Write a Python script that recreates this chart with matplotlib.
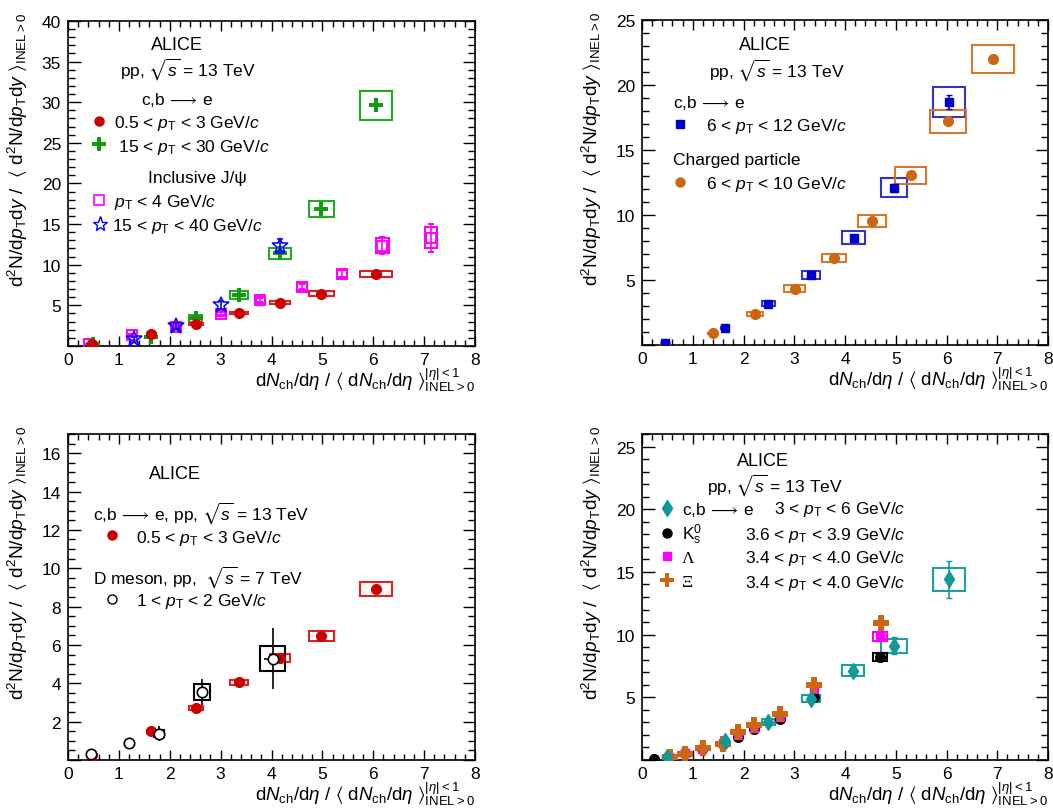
import numpy as np
import matplotlib
matplotlib.use("Agg")
import matplotlib.pyplot as plt
from matplotlib.patches import Rectangle
from matplotlib.lines import Line2D
from matplotlib.ticker import MultipleLocator, FuncFormatter

plt.rcParams['font.family'] = ['Liberation Sans', 'DejaVu Sans']
plt.rcParams['mathtext.fontset'] = 'custom'
plt.rcParams['mathtext.rm'] = 'Liberation Sans'
plt.rcParams['mathtext.it'] = 'Liberation Sans:italic'
plt.rcParams['mathtext.bf'] = 'Liberation Sans:bold'
plt.rcParams['mathtext.fallback'] = 'stixsans'
plt.rcParams['font.size'] = 12

# ---- data ----
# c,b -> e, 0.5 < pT < 3 GeV/c
hfe_low_x = [0.47, 1.64, 2.51, 3.36, 4.17, 4.98, 6.05]
hfe_low_y = [0.28, 1.5, 2.7, 4.05, 5.32, 6.45, 8.9]
hfe_low_stat = [0.02, 0.05, 0.07, 0.1, 0.12, 0.15, 0.3]
hfe_low_sx = [0.03, 0.08, 0.14, 0.17, 0.2, 0.25, 0.31]
hfe_low_sy = [0.04, 0.08, 0.1, 0.14, 0.19, 0.27, 0.37]

# c,b -> e, 15 < pT < 30 GeV/c
hfe_high_x = [0.49, 1.64, 2.51, 3.36, 4.17, 4.98, 6.05]
hfe_high_y = [0.2, 1.15, 3.4, 6.3, 11.4, 16.9, 29.6]
hfe_high_stat = [0.05, 0.1, 0.2, 0.3, 0.5, 0.6, 0.8]
hfe_high_sx = [0.03, 0.08, 0.13, 0.17, 0.22, 0.25, 0.31]
hfe_high_sy = [0.1, 0.2, 0.4, 0.5, 0.7, 1.0, 1.8]

# inclusive J/psi, pT < 4 GeV/c
jpsi_low_x = [0.41, 1.25, 2.12, 3.0, 3.78, 4.6, 5.38, 6.18, 7.13]
jpsi_low_y = [0.2, 1.3, 2.35, 3.95, 5.65, 7.3, 8.9, 12.35, 13.3]
jpsi_low_stat = [0.05, 0.1, 0.15, 0.2, 0.3, 0.35, 0.45, 1.0, 1.7]
jpsi_low_sx = [0.08, 0.08, 0.08, 0.08, 0.09, 0.09, 0.1, 0.12, 0.12]
jpsi_low_sy = [0.1, 0.2, 0.25, 0.3, 0.38, 0.4, 0.45, 0.9, 1.3]

# inclusive J/psi, 15 < pT < 40 GeV/c
jpsi_high_x = [1.29, 2.13, 3.0, 4.16]
jpsi_high_y = [0.8, 2.45, 5.05, 12.3]
jpsi_high_stat = [0.3, 0.4, 0.5, 0.9]

# c,b -> e, 6 < pT < 12 GeV/c
hfe_mid_x = [0.46, 1.63, 2.49, 3.33, 4.17, 4.97, 6.05]
hfe_mid_y = [0.13, 1.33, 3.18, 5.41, 8.26, 12.1, 18.7]
hfe_mid_stat = [0.02, 0.05, 0.08, 0.12, 0.2, 0.3, 0.55]
hfe_mid_sx = [0.03, 0.07, 0.13, 0.17, 0.22, 0.26, 0.31]
hfe_mid_sy = [0.03, 0.08, 0.2, 0.3, 0.5, 0.74, 1.15]

# charged particles, 6 < pT < 10 GeV/c
ch_x = [0.45, 1.40, 2.22, 3.01, 3.79, 4.54, 5.29, 6.02, 6.92]
ch_y = [0.05, 0.9, 2.36, 4.33, 6.69, 9.54, 13.05, 17.2, 22.0]
ch_sx = [0.03, 0.1, 0.16, 0.21, 0.236, 0.275, 0.31, 0.355, 0.41]
ch_sy = [0.02, 0.06, 0.15, 0.25, 0.33, 0.47, 0.64, 0.87, 1.09]

# D mesons, pp 7 TeV, 1 < pT < 2 GeV/c
dmes_x = [0.46, 1.19, 1.79, 2.64, 4.02]
dmes_y = [0.31, 0.87, 1.38, 3.54, 5.29]
dmes_stat = [0.05, 0.08, 0.37, 0.68, 1.59]
dmes_xerr = [0.0, 0.0, 0.0, 0.05, 0.17]
dmes_sx = [0.05, 0.07, 0.1, 0.16, 0.24]
dmes_sy = [0.05, 0.07, 0.17, 0.4, 0.63]

# c,b -> e, 3 < pT < 6 GeV/c
hfe_36_x = [0.49, 1.64, 2.49, 3.33, 4.16, 4.97, 6.05]
hfe_36_y = [0.2, 1.5, 3.04, 4.9, 7.1, 9.13, 14.4]
hfe_36_stat = [0.02, 0.05, 0.1, 0.2, 0.3, 0.65, 1.45]
hfe_36_sx = [0.03, 0.07, 0.13, 0.18, 0.22, 0.26, 0.31]
hfe_36_sy = [0.03, 0.1, 0.25, 0.3, 0.44, 0.56, 0.9]

# strange hadrons
k0_x = [0.24, 0.54, 0.85, 1.19, 1.6, 1.9, 2.2, 2.71, 3.38, 4.69]
k0_y = [0.08, 0.22, 0.55, 0.85, 1.3, 1.85, 2.45, 3.3, 5.0, 8.2]
lam_x = [0.54, 0.85, 1.19, 1.6, 1.9, 2.2, 2.71, 3.38, 4.69]
lam_y = [0.24, 0.55, 0.9, 1.35, 2.0, 2.55, 3.45, 5.7, 9.85]
xi_x = [0.55, 0.85, 1.2, 1.6, 1.9, 2.2, 2.71, 3.39, 4.7]
xi_y = [0.26, 0.45, 0.93, 1.24, 2.25, 2.78, 3.7, 5.95, 10.9]
strange_sx = 0.13
strange_sy = 0.33

RED = '#cc0000'
GREEN = '#129a12'
MAGENTA = '#ff00ff'
BLUE = '#0000ff'
DBLUE = '#0000cc'
ORANGE = '#cc6611'
TEAL = '#119999'

XLABEL = (r'd$N_{\mathrm{ch}}$/d$\eta$ / $\langle$ d$N_{\mathrm{ch}}$/d$\eta$ '
          r'$\rangle^{|\eta|<1}_{\mathrm{INEL>0}}$')
YLABEL = (r'd$^{2}$N/d$p_{\mathrm{T}}$d$y$ /  $\langle$ d$^{2}$N/d$p_{\mathrm{T}}$d$y$ '
          r'$\rangle_{\mathrm{INEL>0}}$')
PT = r'$p_{\mathrm{T}}$'
ARROW = r'c,b $\!\longrightarrow\!$ e'


def syst_boxes(ax, x, y, sx, sy, color, lw=1.5):
    sx = np.broadcast_to(sx, len(x))
    sy = np.broadcast_to(sy, len(x))
    for xi, yi, wx, wy in zip(x, y, sx, sy):
        ax.add_patch(Rectangle((xi - wx, yi - wy), 2 * wx, 2 * wy, fill=False,
                               ec=color, lw=lw, zorder=2))


def style_axes(ax, ymax, ymajor, yminor):
    ax.set_xlim(0, 8)
    ax.set_ylim(0, ymax)
    ax.xaxis.set_major_locator(MultipleLocator(1))
    ax.xaxis.set_minor_locator(MultipleLocator(0.2))
    ax.yaxis.set_major_locator(MultipleLocator(ymajor))
    ax.yaxis.set_minor_locator(MultipleLocator(yminor))
    ax.yaxis.set_major_formatter(FuncFormatter(lambda v, p: '' if v == 0 else f'{v:g}'))
    ax.tick_params(which='both', direction='in', top=True, right=True, labelsize=12.5)
    ax.tick_params(axis='x', which='major', length=7, width=1.0, pad=4)
    ax.tick_params(axis='x', which='minor', length=4, width=1.0)
    ax.tick_params(axis='y', which='major', length=9, width=1.0, pad=5)
    ax.tick_params(axis='y', which='minor', length=5, width=1.0)
    for s in ax.spines.values():
        s.set_linewidth(1.2)
    ax.set_xlabel(XLABEL, fontsize=13.5, loc='right')
    ax.xaxis.set_label_coords(1.0, -0.06)
    ax.set_ylabel(YLABEL, fontsize=13.8, loc='top')
    ax.yaxis.set_label_coords(-0.094, 1.028)


def entry(ax, handle, label, xm, yc, pad=0.35, fs=12.5, family=None):
    # one legend row, marker centred at axes fraction (xm, yc)
    half = 0.5 * 1.0 * fs * 100 / 72 / ax.bbox.width
    prop = {'size': fs}
    if family:
        prop['family'] = family
    leg = ax.legend([handle], [label], loc='center left', bbox_to_anchor=(xm - half, yc),
                    frameon=False, borderpad=0, borderaxespad=0, handlelength=1.0,
                    handletextpad=pad, prop=prop)
    ax.add_artist(leg)
    ax.legend_ = None


def mk(marker, color, ms, mfc=None, mew=1.0):
    return Line2D([], [], ls='none', marker=marker, color=color, ms=ms,
                  mfc=color if mfc is None else mfc, mew=mew)


fig = plt.figure(figsize=(10.53, 8.12), dpi=100)
ax1 = fig.add_axes([0.0646, 0.5727, 0.3865, 0.4003])
ax2 = fig.add_axes([0.6097, 0.5739, 0.3856, 0.4003])
ax3 = fig.add_axes([0.0646, 0.0628, 0.3865, 0.4015])
ax4 = fig.add_axes([0.6097, 0.0628, 0.3856, 0.4015])

# ---------------- panel 1 ----------------
style_axes(ax1, 40, 5, 1)
syst_boxes(ax1, hfe_high_x, hfe_high_y, hfe_high_sx, hfe_high_sy, '#22aa22')
syst_boxes(ax1, hfe_low_x, hfe_low_y, hfe_low_sx, hfe_low_sy, '#dd2222')
syst_boxes(ax1, jpsi_low_x, jpsi_low_y, jpsi_low_sx, jpsi_low_sy, MAGENTA)
ax1.errorbar(jpsi_low_x, jpsi_low_y, yerr=jpsi_low_stat, fmt='s', color=MAGENTA, ms=6.5,
             mfc='none', mew=1.4, capsize=2, elinewidth=1.2, zorder=4)
ax1.errorbar(hfe_high_x, hfe_high_y, yerr=hfe_high_stat, fmt='P', color=GREEN, ms=9.5,
             mew=0, elinewidth=1.2, zorder=4)
ax1.errorbar(hfe_low_x, hfe_low_y, yerr=hfe_low_stat, fmt='o', color=RED, ms=7,
             elinewidth=1.2, zorder=5)
ax1.errorbar(jpsi_high_x, jpsi_high_y, yerr=jpsi_high_stat, fmt='*', color=BLUE, ms=12,
             mfc='none', mew=1.1, capsize=2, elinewidth=1.2, zorder=6)

ax1.text(0.268, 0.929, 'ALICE', transform=ax1.transAxes, ha='center', va='center', fontsize=13)
ax1.text(0.295, 0.855, r'pp, $\sqrt{s}$ = 13 TeV', transform=ax1.transAxes, ha='center',
         va='center', fontsize=12.5)
ax1.text(0.268, 0.76, ARROW, transform=ax1.transAxes, ha='center', va='center', fontsize=12.5)
entry(ax1, mk('o', RED, 6.5), '0.5 < ' + PT + ' < 3 GeV/$c$', 0.076, 0.686)
entry(ax1, mk('P', GREEN, 9.5, mew=0), ' 15 < ' + PT + ' < 30 GeV/$c$', 0.076, 0.615)
ax1.text(0.317, 0.517, 'Inclusive J/ψ', transform=ax1.transAxes, ha='center', va='center',
         fontsize=12.5)
entry(ax1, mk('s', MAGENTA, 6.5, mfc='none', mew=1.2), PT + ' < 4 GeV/$c$', 0.076, 0.443)
entry(ax1, mk('*', BLUE, 11, mfc='none', mew=1.0), '15 < ' + PT + ' < 40 GeV/$c$', 0.078, 0.37,
      pad=0.2)

# ---------------- panel 2 ----------------
style_axes(ax2, 25, 5, 1)
syst_boxes(ax2, hfe_mid_x, hfe_mid_y, hfe_mid_sx, hfe_mid_sy, '#3333cc')
syst_boxes(ax2, ch_x, ch_y, ch_sx, ch_sy, '#d8782a')
ax2.errorbar(ch_x, ch_y, fmt='o', color=ORANGE, ms=7, zorder=4)
ax2.errorbar(hfe_mid_x, hfe_mid_y, yerr=hfe_mid_stat, fmt='s', color=DBLUE, ms=5.5,
             capsize=2, elinewidth=1.2, zorder=5)

ax2.text(0.303, 0.926, 'ALICE', transform=ax2.transAxes, ha='center', va='center', fontsize=13)
ax2.text(0.332, 0.849, r'pp, $\sqrt{s}$ = 13 TeV', transform=ax2.transAxes, ha='center',
         va='center', fontsize=12.5)
ax2.text(0.076, 0.748, ARROW, transform=ax2.transAxes, ha='left', va='center', fontsize=12.5)
entry(ax2, mk('s', DBLUE, 5.5), '6 < ' + PT + ' < 12 GeV/$c$', 0.094, 0.674, pad=1.0)
ax2.text(0.076, 0.572, 'Charged particle', transform=ax2.transAxes, ha='left', va='center',
         fontsize=12.5)
entry(ax2, mk('o', ORANGE, 6.5), '6 < ' + PT + ' < 10 GeV/$c$', 0.094, 0.498, pad=1.0)

# ---------------- panel 3 ----------------
style_axes(ax3, 17, 2, 0.5)
syst_boxes(ax3, hfe_low_x, hfe_low_y, hfe_low_sx, hfe_low_sy, '#dd2222')
syst_boxes(ax3, dmes_x, dmes_y, dmes_sx, dmes_sy, 'black')
ax3.errorbar(hfe_low_x, hfe_low_y, yerr=hfe_low_stat, fmt='o', color=RED, ms=7,
             elinewidth=1.2, zorder=4)
ax3.errorbar(dmes_x, dmes_y, yerr=dmes_stat, xerr=dmes_xerr, fmt='o', color='black', ms=7.5,
             mfc='white', mew=1.2, elinewidth=1.2, zorder=5)

ax3.text(0.263, 0.880, 'ALICE', transform=ax3.transAxes, ha='center', va='center', fontsize=13)
ax3.text(0.061, 0.761, ARROW + r', pp, $\sqrt{s}$ = 13 TeV', transform=ax3.transAxes, ha='left',
         va='center', fontsize=12.5)
entry(ax3, mk('o', RED, 6.5), '0.5 < ' + PT + ' < 3 GeV/$c$', 0.108, 0.684, pad=0.9)
ax3.text(0.061, 0.564, r'D meson, pp,  $\sqrt{s}$ = 7 TeV', transform=ax3.transAxes, ha='left',
         va='center', fontsize=12.5)
entry(ax3, mk('o', 'black', 6.5, mfc='white', mew=1.0), '1 < ' + PT + ' < 2 GeV/$c$', 0.108,
      0.488, pad=0.9)

# ---------------- panel 4 ----------------
style_axes(ax4, 26, 5, 1)
syst_boxes(ax4, hfe_36_x, hfe_36_y, hfe_36_sx, hfe_36_sy, '#1aa0a0')
syst_boxes(ax4, k0_x[-1:], k0_y[-1:], strange_sx, strange_sy, 'black')
syst_boxes(ax4, lam_x[-1:], lam_y[-1:], strange_sx, strange_sy, MAGENTA)
ax4.errorbar(k0_x, k0_y, fmt='o', color='black', ms=7, zorder=4)
ax4.errorbar(lam_x, lam_y, fmt='s', color=MAGENTA, ms=5.5, zorder=5)
ax4.errorbar(xi_x, xi_y, fmt='P', color=ORANGE, ms=11, mew=0, zorder=6)
ax4.errorbar(hfe_36_x, hfe_36_y, yerr=hfe_36_stat, fmt='d', color=TEAL, ms=8, capsize=2,
             elinewidth=1.2, zorder=7)

ax4.text(0.298, 0.920, 'ALICE', transform=ax4.transAxes, ha='center', va='center', fontsize=13)
ax4.text(0.328, 0.847, r'pp, $\sqrt{s}$ = 13 TeV', transform=ax4.transAxes, ha='center',
         va='center', fontsize=12.5)
entry(ax4, mk('d', TEAL, 8), ARROW, 0.0616, 0.770)
entry(ax4, mk('o', 'black', 6.5), r'K$^{0}_{\mathrm{s}}$', 0.0616, 0.693)
entry(ax4, mk('s', MAGENTA, 5.5), 'Λ', 0.0616, 0.620, family='Liberation Serif')
entry(ax4, mk('P', ORANGE, 10, mew=0), 'Ξ', 0.0616, 0.546, family='Liberation Serif')
ranges4 = ['3 < ' + PT + ' < 6 GeV/$c$', '3.6 < ' + PT + ' < 3.9 GeV/$c$',
           '3.4 < ' + PT + ' < 4.0 GeV/$c$', '3.4 < ' + PT + ' < 4.0 GeV/$c$']
for yy, lab in zip([0.770, 0.693, 0.620, 0.546], ranges4):
    ax4.text(0.648, yy, lab, transform=ax4.transAxes, ha='right', va='center', fontsize=12.5)

fig.savefig('out.png', dpi=100)
